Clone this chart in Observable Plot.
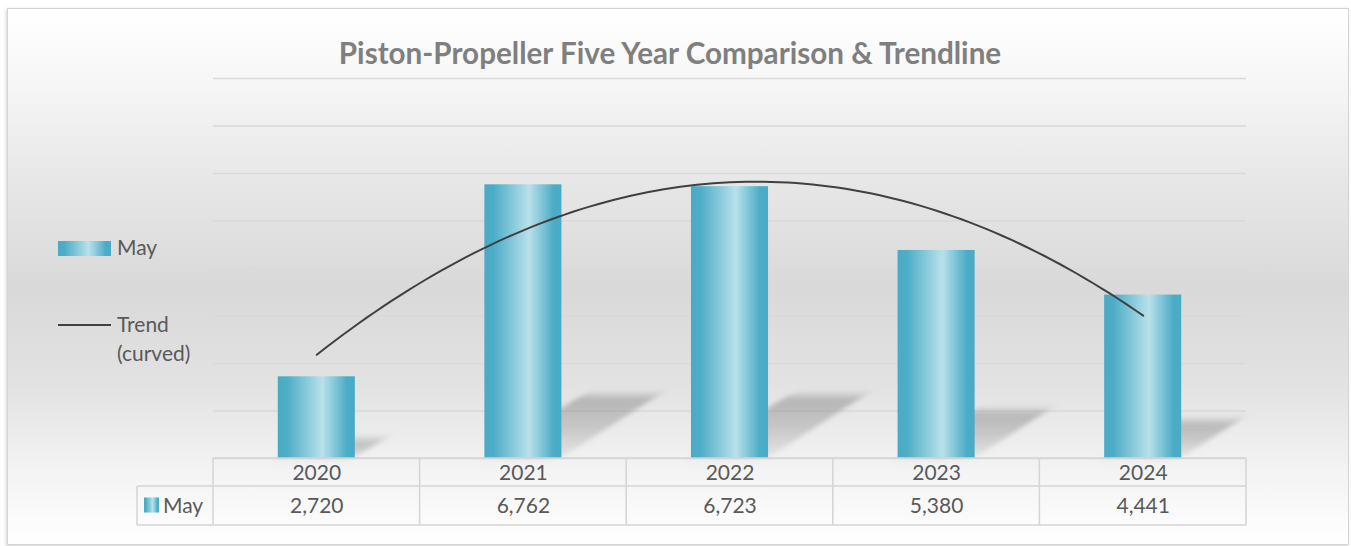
<!DOCTYPE html>
<html><head><meta charset="utf-8">
<script src="https://cdn.jsdelivr.net/npm/d3@7"></script>
<script src="https://cdn.jsdelivr.net/npm/@observablehq/plot@0.6"></script>
<style>
html,body{margin:0;padding:0;background:#fff;}
#wrap{position:relative;width:1351px;height:546px;overflow:hidden;font-family:Lato,"Open Sans",sans-serif;}
#frame{position:absolute;left:7px;top:8px;width:1340px;height:535px;border:1px solid #d4d4d4;box-shadow:-1px 1px 3px rgba(0,0,0,0.18);
background:linear-gradient(to bottom,#ffffff 0%,#f7f7f7 13%,#e7e7e7 32%,#d9d9d9 52%,#e2e2e2 70%,#f3f3f3 86%,#ffffff 100%);}
#title{position:absolute;left:0;width:1340px;text-align:center;font-weight:700;color:#7f7f7f;white-space:nowrap;line-height:1;font-family:Lato,sans-serif;}
#chart{position:absolute;left:0;top:0;}
</style></head>
<body>
<svg width="0" height="0" style="position:absolute">
  <defs>
    <linearGradient id="barGrad" x1="0" x2="1" y1="0" y2="0">
      <stop offset="0" stop-color="#4aabc6"/>
      <stop offset="0.12" stop-color="#4dadc7"/>
      <stop offset="0.58" stop-color="#b8e1ea"/>
      <stop offset="0.9" stop-color="#4bacc6"/>
      <stop offset="1" stop-color="#4aabc6"/>
    </linearGradient>
    <linearGradient id="shadowGrad" x1="0" x2="0" y1="0" y2="1">
      <stop offset="0" stop-color="#8a8a8a" stop-opacity="0.55"/>
      <stop offset="0.5" stop-color="#9a9a9a" stop-opacity="0.45"/>
      <stop offset="1" stop-color="#b0b0b0" stop-opacity="0.2"/>
    </linearGradient>
    <filter id="shadowBlur" x="-30%" y="-40%" width="160%" height="180%">
      <feGaussianBlur stdDeviation="4"/>
    </filter>
  </defs>
</svg>
<div id="wrap"><div id="frame"></div><div id="title"></div><div id="chart"></div></div>
<script>
// ---- data ----
const years = [2020, 2021, 2022, 2023, 2024];
const mayValues = [2720, 6762, 6723, 5380, 4441];
const seriesName = "May";
const trendName = ["Trend", "(curved)"];
const yTicks = [1000, 2000, 3000, 4000, 5000, 6000, 7000, 8000, 9000];
const chartTitle = "Piston-Propeller Five Year Comparison & Trendline";

// ---- title ----
const titleEl = document.getElementById("title");
titleEl.textContent = chartTitle;
(function fitTitle() {
  const c = document.createElement("canvas").getContext("2d");
  c.font = "bold 28px Lato";
  const w = c.measureText(chartTitle).width;
  const fs = 28 * 666 / w;
  titleEl.style.fontSize = fs + "px";
  titleEl.style.top = (64 - 0.887 * fs) + "px";
})();

// ---- derived ----
const data = years.map((year, i) => ({year, value: mayValues[i]}));
const n = years.length;
const base = yTicks[0];
const hw = 0.1865;

// quadratic (order-2 polynomial) least-squares trendline, as in the source chart
function polyfit2(xs, ys) {
  const S = k => d3.sum(xs, x => x ** k);
  const T = k => d3.sum(xs, (x, i) => x ** k * ys[i]);
  const A = [[S(0), S(1), S(2)], [S(1), S(2), S(3)], [S(2), S(3), S(4)]];
  const B = [T(0), T(1), T(2)];
  const det = m => m[0][0]*(m[1][1]*m[2][2]-m[1][2]*m[2][1]) - m[0][1]*(m[1][0]*m[2][2]-m[1][2]*m[2][0]) + m[0][2]*(m[1][0]*m[2][1]-m[1][1]*m[2][0]);
  const D = det(A);
  return [0, 1, 2].map(j => det(A.map((row, r) => row.map((v, c) => c === j ? B[r] : v))) / D);
}
const xm = d3.mean(years);
const coef = polyfit2(years.map(y => y - xm), mayValues);
const steps = 100;
const trend = d3.range(steps + 1).map(k => {
  const x = years[0] + k * (years[n - 1] - years[0]) / steps;
  const t = x - xm;
  return {x, y: coef[0] + coef[1] * t + coef[2] * t * t};
});

const textColor = "#595959";

const chart = Plot.plot({
  width: 1351, height: 546,
  marginLeft: 213, marginRight: 105, marginTop: 78, marginBottom: 88,
  x: {type: "linear", domain: [years[0] - 0.5, years[n - 1] + 0.5]},
  y: {domain: [yTicks[0], yTicks[yTicks.length - 1]], axis: null},
  style: {background: "transparent", fontFamily: "Lato, sans-serif", fontSize: "21px", color: textColor, overflow: "visible"},
  marks: [
    Plot.ruleY(yTicks, {stroke: "#d9d9d9", strokeWidth: 1.5}),
    Plot.rect(data, {
      x1: d => d.year - hw, x2: d => d.year + hw,
      y1: () => base, y2: d => base + (d.value - base) * 0.23,
      fill: "url(#shadowGrad)", ariaDescription: "shadow"
    }),
    Plot.rect(data, {
      x1: d => d.year - hw, x2: d => d.year + hw,
      y1: () => base, y2: "value",
      fill: "url(#barGrad)"
    }),
    Plot.line(trend, {x: "x", y: "y", stroke: "#404040", strokeWidth: 2}),
    Plot.axisX(years, {tickSize: 0, tickPadding: 7, tickFormat: d => String(d), fill: textColor, fontSize: 21}),
    Plot.text(data, {x: "year", text: d => d3.format(",")(d.value), frameAnchor: "bottom", lineAnchor: "middle", dy: 48, fill: textColor, fontSize: 21})
  ]
});
document.getElementById("chart").appendChild(chart);

const svg = d3.select(chart);
const sx = chart.scale("x"), sy = chart.scale("y");
const y0 = sy.apply(base);

// skewed, blurred floor shadows
svg.selectAll('g[aria-description="shadow"]')
  .attr("transform", `translate(0,${y0}) skewX(-57) translate(0,${-y0})`)
  .attr("filter", "url(#shadowBlur)");

// data table grid
const row1 = 28, row2 = 39;
const edges = [years[0] - 0.5, ...years.map(y => y + 0.5)];
const left = sx.apply(edges[0]), right = sx.apply(edges[edges.length - 1]);
const hdrLeft = left - 76;
const grid = svg.append("g").attr("stroke", "#d4d4d4").attr("stroke-width", 1.5).attr("fill", "none");
grid.append("line").attr("x1", left).attr("x2", right).attr("y1", y0).attr("y2", y0);
grid.append("line").attr("x1", hdrLeft).attr("x2", right).attr("y1", y0 + row1).attr("y2", y0 + row1);
grid.append("line").attr("x1", hdrLeft).attr("x2", right).attr("y1", y0 + row1 + row2).attr("y2", y0 + row1 + row2);
edges.forEach(e => grid.append("line").attr("x1", sx.apply(e)).attr("x2", sx.apply(e)).attr("y1", y0).attr("y2", y0 + row1 + row2));
grid.append("line").attr("x1", hdrLeft).attr("x2", hdrLeft).attr("y1", y0 + row1).attr("y2", y0 + row1 + row2);

// table row header
const rowMid = y0 + row1 + row2 / 2;
svg.append("rect").attr("x", hdrLeft + 7).attr("y", rowMid - 8).attr("width", 15).attr("height", 15).attr("fill", "url(#barGrad)");
svg.append("text").attr("x", hdrLeft + 26).attr("y", rowMid).attr("dy", "0.35em").attr("fill", textColor)
  .attr("text-anchor", "start").attr("font-size", 21).text(seriesName);

// legend
const lg = svg.append("g").attr("fill", textColor).attr("font-size", 21).attr("text-anchor", "start");
lg.append("rect").attr("x", 58).attr("y", 241).attr("width", 53).attr("height", 15).attr("fill", "url(#barGrad)");
lg.append("text").attr("x", 117).attr("y", 255).text(seriesName);
lg.append("line").attr("x1", 58).attr("x2", 111).attr("y1", 325).attr("y2", 325).attr("stroke", "#404040").attr("stroke-width", 2);
lg.append("text").attr("x", 117).attr("y", 332).text(trendName[0]);
lg.append("text").attr("x", 117).attr("y", 361).text(trendName[1]);
</script>
</body></html>
